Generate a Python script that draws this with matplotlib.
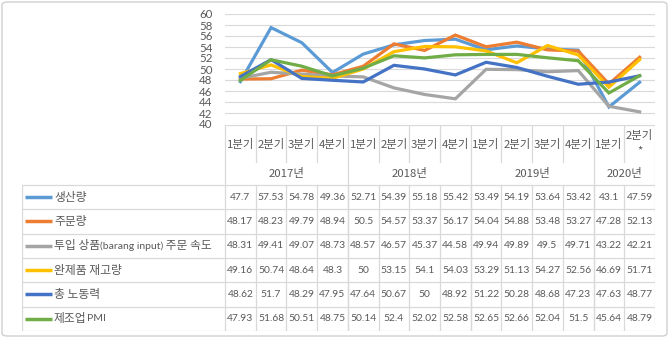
import re
import numpy as np
import matplotlib.pyplot as plt
from matplotlib.patches import FancyBboxPatch

plt.rcParams['font.family'] = ['Noto Sans CJK KR', 'DejaVu Sans']

quarters = ['1분기', '2분기', '3분기', '4분기', '1분기', '2분기', '3분기', '4분기',
            '1분기', '2분기', '3분기', '4분기', '1분기', '2분기\n*']
years = ['2017년', '2018년', '2019년', '2020년']
year_len = [4, 4, 4, 2]

series_names = ['생산량', '주문량', '투입 상품(barang input) 주문 속도',
                '완제품 재고량', '총 노동력', '제조업PMI']
production = [47.7, 57.53, 54.78, 49.36, 52.71, 54.39, 55.18, 55.42, 53.49, 54.19, 53.64, 53.42, 43.1, 47.59]
orders = [48.17, 48.23, 49.79, 48.94, 50.5, 54.57, 53.37, 56.17, 54.04, 54.88, 53.48, 53.27, 47.28, 52.13]
input_speed = [48.31, 49.41, 49.07, 48.73, 48.57, 46.57, 45.37, 44.58, 49.94, 49.89, 49.5, 49.71, 43.22, 42.21]
stock = [49.16, 50.74, 48.64, 48.3, 50, 53.15, 54.1, 54.03, 53.29, 51.13, 54.27, 52.56, 46.69, 51.71]
labour = [48.62, 51.7, 48.29, 47.95, 47.64, 50.67, 50, 48.92, 51.22, 50.28, 48.68, 47.23, 47.63, 48.77]
pmi = [47.93, 51.68, 50.51, 48.75, 50.14, 52.4, 52.02, 52.58, 52.65, 52.66, 52.04, 51.5, 45.64, 48.79]

series = [production, orders, input_speed, stock, labour, pmi]
colors = ['#5B9BD5', '#ED7D31', '#A5A5A5', '#FFC000', '#4472C4', '#70AD47']

W, H = 670, 338
fig = plt.figure(figsize=(W / 100, H / 100), dpi=100)
txt = '#595959'
grid = '#D9D9D9'
num_font = ['Lato', 'DejaVu Sans']

def fx(px):
    return px / W

def fy(py):
    return 1 - py / H

# outer frame
fig.patches.append(FancyBboxPatch((fx(2), fy(336)), fx(665), 334 / H,
                                  boxstyle='round,pad=0,rounding_size=0.008',
                                  transform=fig.transFigure, fill=False,
                                  ec='#D0D0D0', lw=1.0))

x0, x1 = 225, 655
n = len(quarters)

# line chart
ax = fig.add_axes([fx(x0), fy(124), fx(x1 - x0), (124 - 14) / H])
x = np.arange(n)
for vals, c in zip(series, colors):
    ax.plot(x, vals, color=c, lw=2.3, solid_joinstyle='miter')
ax.set_xlim(-0.5, n - 0.5)
ax.set_ylim(40, 60)
ax.set_yticks(np.arange(40, 61, 2))
ax.yaxis.grid(True, color=grid, lw=0.8)
ax.set_axisbelow(True)
ax.set_xticks([])
ax.tick_params(axis='y', length=0, pad=9, labelcolor=txt)
for lab in ax.get_yticklabels():
    lab.set_family(num_font)
    lab.set_fontsize(8.3)
for s in ax.spines.values():
    s.set_visible(False)

# data table with legend keys
tl, tt, tb = 22, 125, 331
hdr = 185
row_h = (tb - hdr) / len(series)
col_w = (x1 - x0) / n
ta = fig.add_axes([fx(tl), fy(tb), fx(x1 - tl), (tb - tt) / H])
ta.set_xlim(tl, x1)
ta.set_ylim(tb, tt)
ta.axis('off')
lc = '#D9D9D9'
renderer = fig.canvas.get_renderer()

def mixed_text(x, y, s, big=8.5, small=7.5):
    # latin runs are set in a smaller latin face than the hangul around them
    for part in re.split(r'([A-Za-z()][A-Za-z() ]*[A-Za-z()])', s):
        if not part:
            continue
        if re.match(r'[A-Za-z(]', part):
            t = ta.text(x, y, part, ha='left', va='center', fontsize=small,
                        color=txt, family=num_font)
        else:
            t = ta.text(x, y, part, ha='left', va='center', fontsize=big, color=txt)
        bb = t.get_window_extent(renderer)
        x = ta.transData.inverted().transform((bb.x1, bb.y0))[0]

# header lines
ta.plot([x0, x1], [tt, tt], color=lc, lw=0.9)
ta.plot([x1, x1], [tt, tb], color=lc, lw=0.9)
ta.plot([x0, x0], [tt, tb], color=lc, lw=0.9)
start = 0
for yl in year_len:
    for k in range(1, yl):
        xb = x0 + (start + k) * col_w
        ta.plot([xb, xb], [tt, 162], color=lc, lw=0.9)
    start += yl
    if start < n:
        xb = x0 + start * col_w
        ta.plot([xb, xb], [tt, tb], color=lc, lw=0.9)

for i, q in enumerate(quarters):
    cx = x0 + (i + 0.5) * col_w
    if '\n' in q:
        a, b = q.split('\n')
        ta.text(cx, 136, a, ha='center', va='center', fontsize=8.2, color=txt)
        ta.text(cx, 151, b, ha='center', va='center', fontsize=8.2, color=txt)
    else:
        ta.text(cx, 145, q, ha='center', va='center', fontsize=8.2, color=txt)

start = 0
for yr, yl in zip(years, year_len):
    cx = x0 + (start + yl / 2) * col_w
    ta.text(cx, 174, yr, ha='center', va='center', fontsize=8.2, color=txt)
    start += yl

# body grid
for r in range(len(series) + 1):
    yy = hdr + r * row_h
    ta.plot([tl, x1], [yy, yy], color=lc, lw=0.9)
ta.plot([tl, tl], [hdr, tb], color=lc, lw=0.9)
for i in range(1, n):
    xb = x0 + i * col_w
    ta.plot([xb, xb], [hdr, tb], color=lc, lw=0.9)

for r, (name, vals, c) in enumerate(zip(series_names, series, colors)):
    cy = hdr + (r + 0.5) * row_h
    ta.plot([25, 52], [cy, cy], color=c, lw=2.5, solid_capstyle='butt')
    mixed_text(54, cy, name)
    for i, v in enumerate(vals):
        cx = x0 + (i + 0.5) * col_w
        ta.text(cx, cy, f'{v:g}', ha='center', va='center', fontsize=7.4,
                color=txt, family=num_font)

fig.savefig('out.png', dpi=100)
